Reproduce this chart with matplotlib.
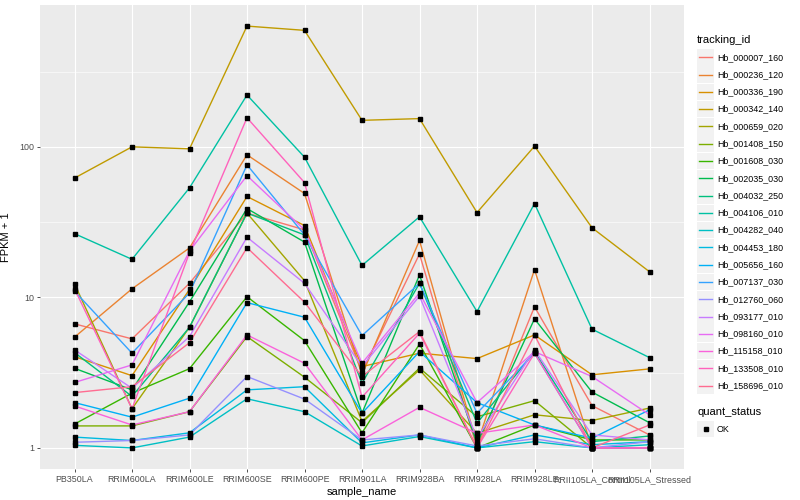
import numpy as np
import matplotlib
matplotlib.use("Agg")
import matplotlib.pyplot as plt
from matplotlib.patches import Rectangle
from matplotlib.lines import Line2D

plt.rcParams["font.family"] = ["Liberation Sans", "DejaVu Sans"]

# Samples along the x axis
samples = ["PB350LA", "RRIM600LA", "RRIM600LE", "RRIM600SE", "RRIM600PE",
           "RRIM901LA", "RRIM928BA", "RRIM928LA", "RRIM928LE",
           "RRII105LA_Control", "RRII105LA_Stressed"]

# FPKM + 1 per gene
Hb_000007_160 = [6.67, 5.3, 12.4, 36.3, 28.1, 3.21, 19.4, 1.0, 8.65, 1.91, 1.22]
Hb_000236_120 = [5.44, 11.4, 21.3, 88.5, 49.0, 3.06, 23.9, 1.05, 15.3, 1.0, 1.0]
Hb_000336_190 = [4.04, 3.02, 11.3, 46.8, 30.0, 3.47, 4.26, 3.92, 5.63, 3.06, 3.35]
Hb_000342_140 = [62, 100, 97, 634, 594, 150, 154, 36.6, 101, 29, 14.8]
Hb_000659_020 = [12.3, 1.82, 6.33, 36.3, 12.9, 1.50, 3.30, 1.25, 1.66, 1.52, 1.84]
Hb_001408_150 = [1.40, 1.40, 1.74, 5.49, 2.95, 1.47, 3.39, 1.61, 2.06, 1.0, 1.0]
Hb_001608_030 = [1.44, 2.31, 3.36, 10.1, 5.16, 1.26, 4.89, 1.0, 1.42, 1.13, 1.13]
Hb_002035_030 = [3.38, 2.43, 9.33, 38.9, 23.3, 1.70, 14.1, 1.07, 7.2, 2.35, 1.47]
Hb_004032_250 = [4.30, 2.2, 6.33, 36.3, 26.0, 2.69, 12.4, 1.46, 4.36, 1.1, 1.2]
Hb_004106_010 = [26.5, 17.9, 53.4, 221, 85.4, 16.3, 34.3, 8.05, 42, 6.15, 3.98]
Hb_004282_040 = [1.04, 1.0, 1.18, 2.12, 1.74, 1.03, 1.19, 1.0, 1.10, 1.0, 1.05]
Hb_004453_180 = [1.18, 1.12, 1.26, 2.43, 2.55, 1.08, 1.22, 1.0, 1.22, 1.05, 1.1]
Hb_005656_160 = [2.0, 1.6, 2.14, 9.23, 7.38, 1.70, 4.36, 2.0, 1.42, 1.16, 1.79]
Hb_007137_030 = [11.0, 4.26, 10.7, 75.9, 26.0, 5.57, 12.4, 1.7, 4.26, 1.0, 1.0]
Hb_012760_060 = [1.09, 1.12, 1.22, 2.98, 2.11, 1.13, 1.22, 1.03, 1.15, 1.0, 1.1]
Hb_093177_010 = [4.48, 2.49, 5.49, 25.1, 12.4, 3.47, 10.2, 1.16, 4.48, 1.22, 1.13]
Hb_098160_010 = [2.72, 3.56, 20.3, 64.4, 28.1, 3.65, 10.7, 2.0, 4.36, 2.98, 1.66]
Hb_115158_010 = [1.90, 1.42, 1.74, 5.63, 3.65, 1.13, 1.86, 1.25, 1.42, 1.0, 1.0]
Hb_133508_010 = [11.4, 1.82, 19.8, 156, 57.9, 2.17, 5.78, 1.0, 4.26, 1.0, 1.0]
Hb_158696_010 = [2.33, 2.55, 5.0, 21.4, 9.29, 2.98, 5.93, 1.0, 5.63, 1.0, 1.42]

genes = {
    "Hb_000007_160": Hb_000007_160, "Hb_000236_120": Hb_000236_120,
    "Hb_000336_190": Hb_000336_190, "Hb_000342_140": Hb_000342_140,
    "Hb_000659_020": Hb_000659_020, "Hb_001408_150": Hb_001408_150,
    "Hb_001608_030": Hb_001608_030, "Hb_002035_030": Hb_002035_030,
    "Hb_004032_250": Hb_004032_250, "Hb_004106_010": Hb_004106_010,
    "Hb_004282_040": Hb_004282_040, "Hb_004453_180": Hb_004453_180,
    "Hb_005656_160": Hb_005656_160, "Hb_007137_030": Hb_007137_030,
    "Hb_012760_060": Hb_012760_060, "Hb_093177_010": Hb_093177_010,
    "Hb_098160_010": Hb_098160_010, "Hb_115158_010": Hb_115158_010,
    "Hb_133508_010": Hb_133508_010, "Hb_158696_010": Hb_158696_010,
}

# ggplot2 default hue palette for 20 levels
colors = ["#F8766D", "#EA8331", "#D89000", "#C09B00", "#A3A500", "#7CAE00",
          "#39B600", "#00BB4E", "#00BF7D", "#00C1A3", "#00BFC4", "#00BAE0",
          "#00B0F6", "#35A2FF", "#9590FF", "#C77CFF", "#E76BF3", "#FA62DB",
          "#FF62BC", "#FF6C91"]

W, H = 800, 500
fig = plt.figure(figsize=(8, 5), dpi=100)
ax = fig.add_axes([40 / W, 1 - 469 / H, (684 - 40) / W, (469 - 5) / H])
ax.set_facecolor("#EBEBEB")

x = np.arange(len(samples))
for (name, vals), c in zip(genes.items(), colors):
    ax.plot(x, vals, color=c, lw=1.0, zorder=2)
for name, vals in genes.items():
    ax.plot(x, vals, ls="none", marker="s", ms=2.6, color="black", zorder=3)

ax.set_yscale("log")
allv = np.log10(np.concatenate([np.array(v, float) for v in genes.values()]))
lo, hi = allv.min(), allv.max()
pad = 0.05 * (hi - lo)
ax.set_ylim(10 ** (lo - pad), 10 ** (hi + pad))
ax.set_xlim(-0.6, len(samples) - 0.4)

ax.set_yticks([1, 10, 100])
ax.set_yticklabels(["1", "10", "100"])
ax.set_yticks([10 ** 0.5, 10 ** 1.5, 10 ** 2.5], minor=True)
ax.yaxis.set_minor_formatter(matplotlib.ticker.NullFormatter())
ax.set_xticks(x)
ax.set_xticklabels(samples)

ax.grid(True, which="major", color="white", lw=0.85, zorder=0)
ax.grid(True, which="minor", axis="y", color="white", lw=0.4, zorder=0)
ax.set_axisbelow(True)
for s in ax.spines.values():
    s.set_visible(False)
ax.tick_params(which="major", length=2.2, width=0.6, color="#333333",
               labelsize=6.4, labelcolor="#4D4D4D", pad=2)
ax.tick_params(which="minor", length=0)

ax.set_xlabel("sample_name", fontsize=8, labelpad=2)
ax.set_ylabel("FPKM + 1", fontsize=8, labelpad=6)

# legend drawn by hand in figure pixels
def fx(px):
    return px / W

def fy(py):
    return 1 - py / H

fig.text(fx(697), fy(40), "tracking_id", fontsize=8, va="center", ha="left")
for i, (name, c) in enumerate(zip(genes.keys(), colors)):
    yc = 57.3 + 17.28 * i
    fig.patches.append(Rectangle((fx(697), fy(yc + 8.3)), 17 / W, 16.6 / H,
                                 transform=fig.transFigure, facecolor="#F2F2F2",
                                 edgecolor="none"))
    fig.lines.append(Line2D([fx(699), fx(712)], [fy(yc), fy(yc)], color=c, lw=1.0,
                            transform=fig.transFigure))
    fig.text(fx(717), fy(yc), name, fontsize=6.4, va="center", ha="left")

fig.text(fx(697), fy(412), "quant_status", fontsize=8, va="center", ha="left")
fig.patches.append(Rectangle((fx(697), fy(429 + 8.3)), 17 / W, 16.6 / H,
                             transform=fig.transFigure, facecolor="#F2F2F2",
                             edgecolor="none"))
fig.lines.append(Line2D([fx(705.5)], [fy(429)], ls="none", marker="s", ms=2.6,
                        color="black", transform=fig.transFigure))
fig.text(fx(717), fy(429), "OK", fontsize=6.4, va="center", ha="left")

fig.savefig("out.png", dpi=100, facecolor="white")
